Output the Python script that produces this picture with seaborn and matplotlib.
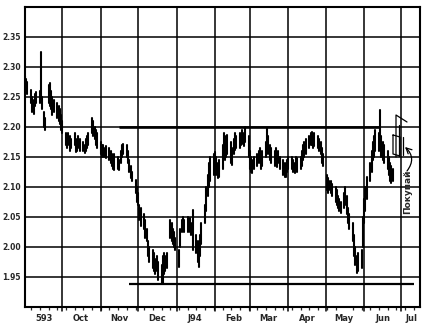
import numpy as np
import pandas as pd
import matplotlib
matplotlib.use("Agg")
import matplotlib.pyplot as plt
import matplotlib.dates as mdates
from matplotlib.ticker import FixedLocator
import seaborn as sns

# ---------------- data (daily high / low, one row per week) ----------------
highs = [
    2.285, 2.280, 2.275,
    2.262, 2.250, 2.245, 2.255, 2.258,
    2.260, 2.325, 2.250, 2.225, 2.215,
    2.270, 2.273, 2.260, 2.250, 2.245,
    2.240, 2.235, 2.230, 2.220, 2.210,
    2.190, 2.185, 2.190, 2.185, 2.180,
    2.190, 2.180, 2.175, 2.185, 2.180,
    2.175, 2.170, 2.180, 2.185, 2.190,
    2.215, 2.210, 2.200, 2.195, 2.190,
    2.175, 2.170, 2.170, 2.165, 2.168,
    2.165, 2.160, 2.155, 2.150, 2.155,
    2.150, 2.145, 2.160, 2.170, 2.172,
    2.170, 2.160, 2.145, 2.135, 2.125,
    2.112, 2.100, 2.090, 2.070, 2.065,
    2.055, 2.045, 2.030, 2.010, 2.000,
    1.995, 1.990, 1.980, 1.985, 1.975,
    1.970, 1.985, 1.990, 1.985, 1.990,
    2.045, 2.040, 2.030, 2.025, 2.015,
    1.995, 2.030, 2.045, 2.050, 2.045,
    2.050, 2.045, 2.048, 2.040, 2.062,
    2.020, 2.010, 2.000, 2.020, 2.040,
    2.070, 2.100, 2.120, 2.140, 2.150,
    2.155, 2.158, 2.150, 2.140, 2.145,
    2.170, 2.190, 2.185, 2.180, 2.187,
    2.175, 2.165, 2.180, 2.190, 2.185,
    2.190, 2.185, 2.195, 2.190, 2.200,
    2.185, 2.160, 2.150, 2.145, 2.150,
    2.155, 2.160, 2.165, 2.155, 2.160,
    2.175, 2.198, 2.185, 2.170, 2.165,
    2.160, 2.165, 2.155, 2.160, 2.150,
    2.145, 2.140, 2.135, 2.145, 2.150,
    2.150, 2.145, 2.140, 2.150, 2.148,
    2.150, 2.160, 2.170, 2.175, 2.180,
    2.185, 2.190, 2.192, 2.185, 2.190,
    2.185, 2.180, 2.175, 2.165, 2.155,
    2.120, 2.115, 2.110, 2.110, 2.105,
    2.100, 2.095, 2.085, 2.080, 2.075,
    2.090, 2.100, 2.085, 2.065, 2.055,
    2.040, 2.020, 2.000, 1.985, 1.990,
    1.995, 2.050, 2.080, 2.100, 2.117,
    2.140, 2.160, 2.175, 2.185, 2.195,
    2.190, 2.228, 2.185, 2.175, 2.170,
    2.160, 2.150, 2.140, 2.135, 2.130,
]
lows = [
    2.265, 2.262, 2.255,
    2.240, 2.225, 2.222, 2.235, 2.240,
    2.240, 2.245, 2.230, 2.200, 2.195,
    2.240, 2.235, 2.230, 2.220, 2.225,
    2.215, 2.210, 2.205, 2.195, 2.190,
    2.170, 2.165, 2.170, 2.160, 2.165,
    2.170, 2.158, 2.160, 2.165, 2.160,
    2.160, 2.157, 2.160, 2.165, 2.170,
    2.190, 2.185, 2.180, 2.170, 2.165,
    2.155, 2.150, 2.152, 2.150, 2.148,
    2.145, 2.140, 2.135, 2.130, 2.128,
    2.130, 2.128, 2.140, 2.150, 2.155,
    2.150, 2.140, 2.125, 2.115, 2.110,
    2.090, 2.075, 2.070, 2.045, 2.035,
    2.030, 2.015, 2.010, 1.985, 1.975,
    1.965, 1.960, 1.955, 1.960, 1.945,
    1.940, 1.940, 1.955, 1.960, 1.965,
    2.015, 2.010, 2.005, 2.000, 1.995,
    1.967, 2.000, 2.025, 2.030, 2.025,
    2.025, 2.030, 2.025, 2.020, 1.995,
    1.990, 1.975, 1.967, 1.985, 2.005,
    2.040, 2.060, 2.085, 2.100, 2.110,
    2.120, 2.125, 2.120, 2.115, 2.117,
    2.130, 2.150, 2.145, 2.150, 2.155,
    2.140, 2.137, 2.155, 2.162, 2.165,
    2.165, 2.170, 2.172, 2.168, 2.175,
    2.150, 2.130, 2.125, 2.123, 2.130,
    2.135, 2.140, 2.145, 2.130, 2.135,
    2.150, 2.160, 2.155, 2.145, 2.140,
    2.135, 2.140, 2.133, 2.140, 2.130,
    2.120, 2.117, 2.117, 2.125, 2.130,
    2.130, 2.125, 2.123, 2.130, 2.125,
    2.130, 2.135, 2.145, 2.150, 2.155,
    2.165, 2.170, 2.170, 2.165, 2.168,
    2.165, 2.160, 2.155, 2.140, 2.135,
    2.095, 2.090, 2.095, 2.090, 2.085,
    2.075, 2.070, 2.065, 2.060, 2.057,
    2.065, 2.070, 2.055, 2.040, 2.030,
    2.010, 1.985, 1.970, 1.957, 1.960,
    1.965, 2.000, 2.040, 2.060, 2.080,
    2.110, 2.125, 2.145, 2.150, 2.160,
    2.160, 2.165, 2.150, 2.145, 2.140,
    2.130, 2.120, 2.110, 2.107, 2.110,
]
start_date = "1993-09-01"
y_ticks = [1.95, 2.00, 2.05, 2.10, 2.15, 2.20, 2.25, 2.30, 2.35]
y_tick_labels = ["1.95", "2.00", "2.05", "2.10", "2.15", "2.20", "2.25", "2.30", "2.35"]
month_labels = ["593", "Oct", "Nov", "Dec", "J94", "Feb", "Mar", "Apr", "May", "Jun", "Jul"]
resistance_level = 2.20
resistance_span = ("1993-11-16", "1994-06-14")
support_level = 1.938
support_span = ("1993-11-24", "1994-07-11")
annotation_text = "Покупай"

# ---------------- build long table ----------------
dates = pd.bdate_range(start_date, periods=len(highs))
bars = pd.DataFrame({"date": dates, "high": highs, "low": lows})
bars["bar"] = np.arange(len(bars))
long = pd.concat([
    bars[["date", "bar"]].assign(price=bars["low"]),
    bars[["date", "bar"]].assign(price=bars["high"]),
]).sort_values(["bar", "price"])

# ---------------- figure ----------------
sns.set_style("white")
plt.rcParams["font.family"] = ["DejaVu Sans"]

fig = plt.figure(figsize=(4.35, 3.26), dpi=100)
ax = fig.add_axes([25 / 435, 1 - 307 / 326, 395 / 435, 300 / 326])

sns.lineplot(data=long, x="date", y="price", units="bar", estimator=None,
             color="black", linewidth=1.5, ax=ax, legend=False)

ax.set_xlim(pd.Timestamp("1993-09-01"), pd.Timestamp("1994-07-16"))
ax.set_ylim(1.90, 2.40)

# horizontal grid
ax.set_yticks(y_ticks)
ax.set_yticklabels(y_tick_labels, fontsize=5.5, fontweight="bold")
ax.tick_params(axis="y", length=0, pad=3)
for y in y_ticks:
    ax.axhline(y, color="black", lw=1.1, zorder=1)

# month boundaries
month_starts = pd.date_range("1993-10-01", "1994-07-01", freq="MS")
for m in month_starts:
    ax.axvline(m, ymin=-0.012, ymax=1, color="black", lw=1.1, clip_on=False, zorder=1)

# month labels at mid-month, weekly minor ticks
label_pos = list(pd.date_range("1993-09-01", "1994-06-01", freq="MS") + pd.Timedelta(days=15))
label_pos.append(pd.Timestamp("1994-07-09"))
ax.xaxis.set_major_locator(FixedLocator(mdates.date2num(label_pos)))
ax.set_xticklabels(month_labels, fontsize=6, fontweight="bold")
ax.xaxis.set_minor_locator(mdates.WeekdayLocator(byweekday=mdates.MO))
ax.tick_params(axis="x", which="major", length=0, pad=5)
ax.tick_params(axis="x", which="minor", length=2.5, width=0.9, direction="out", bottom=True)
ax.set_xlabel("")
ax.set_ylabel("")

# support / resistance
ax.hlines(resistance_level, pd.Timestamp(resistance_span[0]), pd.Timestamp(resistance_span[1]),
          color="black", lw=1.9, zorder=3)
ax.hlines(support_level, pd.Timestamp(support_span[0]), pd.Timestamp(support_span[1]),
          color="black", lw=1.6, zorder=3)

for s in ax.spines.values():
    s.set_visible(True)
    s.set_color("black")
    s.set_linewidth(1.5)

# hand-drawn flag + arrow annotation (axes-pixel placement)
def fx(px):
    return (px - 25) / 395

def fy(py):
    return (307 - py) / 300

ax.plot([fx(396), fx(396), fx(407)], [fy(157), fy(115), fy(122)],
        transform=ax.transAxes, color="black", lw=0.9)
ax.plot([fx(399), fx(399)], [fy(125), fy(156)],
        transform=ax.transAxes, color="black", lw=0.9)
ax.plot([fx(393), fx(393), fx(400), fx(400), fx(393)],
        [fy(135), fy(154), fy(156), fy(137), fy(135)],
        transform=ax.transAxes, color="black", lw=0.9)
ax.plot([fx(403), fx(403)], [fy(137), fy(155)],
        transform=ax.transAxes, color="black", lw=0.9)
ax.annotate("", xy=(fx(405), fy(147)), xytext=(fx(407), fy(171)),
            xycoords="axes fraction", textcoords="axes fraction",
            arrowprops=dict(arrowstyle="->", lw=0.9, color="black",
                            shrinkA=0, shrinkB=0,
                            connectionstyle="arc3,rad=0.45"))
ax.text(fx(408), fy(192), annotation_text, transform=ax.transAxes, rotation=90,
        ha="center", va="center", fontsize=6.5, fontweight="bold")

fig.savefig("out.png", dpi=100)
